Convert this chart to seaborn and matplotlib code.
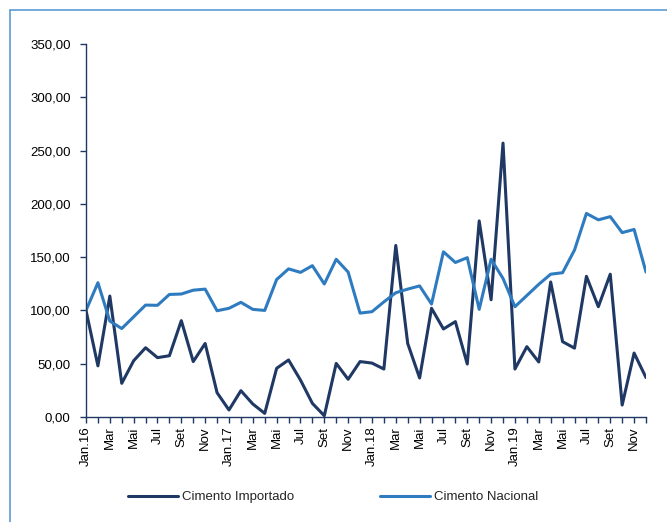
import matplotlib
matplotlib.use("Agg")
import matplotlib.pyplot as plt
import seaborn as sns
import pandas as pd
from matplotlib.patches import Rectangle

months = ["Jan", "Fev", "Mar", "Abr", "Mai", "Jun", "Jul", "Ago", "Set", "Out", "Nov", "Dez"]
years = ["16", "17", "18", "19"]

importado = [100, 48, 113.5, 31.6, 52.8, 65, 55.7, 57.5, 90.4, 52, 69, 22.8,
             6.6, 24.7, 12.2, 3.4, 45.7, 53.5, 34.7, 12.8, 1.2, 50.3, 35.4, 52,
             50.6, 45, 161, 69, 36.6, 102, 82.6, 89.5, 49.7, 184, 110, 257,
             45, 66, 51.6, 126.7, 70.7, 64.6, 132, 103.5, 134, 11.2, 60, 37]
nacional = [100, 126, 90, 83, 94, 105, 104.8, 115, 115.4, 119, 120, 99.7,
            102, 107.6, 101, 100, 129, 139, 135.7, 142, 124.8, 148, 136, 97.5,
            98.8, 108, 116.6, 120, 123, 106, 155, 145, 149.5, 101, 148, 130,
            103.5, 114, 124.5, 134, 135.4, 156.7, 191, 185, 188, 173, 176, 136]

series_names = ["Cimento Importado", "Cimento Nacional"]
colors = ["#1f3864", "#2e7bc0"]

n = len(importado)
tick_labels = []
for y in years:
    for m in months:
        tick_labels.append(f"Jan.{y}" if m == "Jan" else m)

df = pd.DataFrame({
    "idx": list(range(n)) * 2,
    "valor": importado + nacional,
    "serie": [series_names[0]] * n + [series_names[1]] * n,
})

sns.set_style("white")
plt.rcParams["font.family"] = ["Liberation Sans", "DejaVu Sans"]

fig = plt.figure(figsize=(6.67, 5.22), dpi=100)
ax = fig.add_axes([86 / 667, 1 - 417 / 522, (646 - 86) / 667, (417 - 44) / 522])

sns.lineplot(data=df, x="idx", y="valor", hue="serie", palette=colors,
             linewidth=2.2, ax=ax, legend=True)

ax.set_xlim(0, n - 1)
ax.set_ylim(0, 350)
ax.set_yticks(range(0, 351, 50))
ax.set_yticklabels([f"{v},00" for v in range(0, 351, 50)], fontsize=9.5)
ax.set_xticks(range(n))
ax.set_xticklabels([lab if i % 2 == 0 else "" for i, lab in enumerate(tick_labels)],
                   rotation=90, fontsize=9.5)
ax.set_xlabel("")
ax.set_ylabel("")

for s in ["top", "right"]:
    ax.spines[s].set_visible(False)
for s in ["left", "bottom"]:
    ax.spines[s].set_color("#1f3864")
    ax.spines[s].set_linewidth(1.0)
ax.tick_params(axis="y", direction="out", length=4, width=1, color="#1f3864",
               left=True, pad=7, labelcolor="black")
ax.tick_params(axis="x", direction="out", length=4, width=1, color="#1f3864",
               bottom=True, pad=3, labelcolor="black")
ax.grid(False)

handles, labels = ax.get_legend_handles_labels()
ax.legend(handles, labels, loc="center", bbox_to_anchor=(333 / 667, 1 - 497 / 522),
          bbox_transform=fig.transFigure, ncol=2, frameon=False, fontsize=9.5,
          handlelength=3.8, columnspacing=6.5, handletextpad=0.3)

fig.patches.append(Rectangle((10 / 667, -0.1), 1.2, 1 - 10 / 522 + 0.1,
                             transform=fig.transFigure, fill=False,
                             edgecolor="#5b9bd5", linewidth=1.2))

fig.savefig("out.png", dpi=100)
